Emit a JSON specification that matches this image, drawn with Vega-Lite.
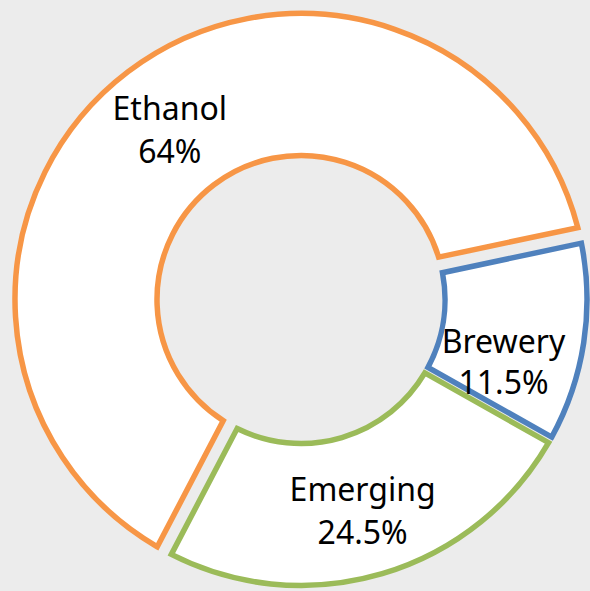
{
  "$schema": "https://vega.github.io/schema/vega-lite/v6.json",
  "autosize": {"type": "fit", "contains": "padding"},
  "width": 590,
  "height": 591,
  "padding": {"left": 12, "top": 8, "right": 0, "bottom": 0},
  "background": "#ececec",
  "view": {"stroke": null},
  "data": {
    "values": [
      {"cat": "Brewery", "value": 11.5, "label": "Brewery\n11.5%"},
      {"cat": "Emerging", "value": 24.5, "label": "Emerging\n24.5%"},
      {"cat": "Ethanol", "value": 64, "label": "Ethanol\n64%"}
    ]
  },
  "encoding": {
    "theta": {"field": "value", "type": "quantitative", "stack": true, "scale": {"range": [1.3614, 7.6446]}},
    "order": {"field": "cat", "type": "nominal", "sort": "ascending"},
    "detail": {"field": "cat", "type": "nominal"}
  },
  "layer": [
    {
      "mark": {"type": "arc", "outerRadius": 286, "innerRadius": 144, "fill": "white", "strokeWidth": 5.5, "padAngle": 0.08},
      "encoding": {
        "stroke": {"field": "cat", "type": "nominal", "legend": null, "scale": {"domain": ["Brewery", "Emerging", "Ethanol"], "range": ["#4f81bd", "#9bbb59", "#f79646"]}},
        "opacity": {"condition": {"test": "datum.cat === 'Ethanol'", "value": 1}, "value": 0}
      }
    },
    {
      "mark": {"type": "arc", "outerRadius": 286, "innerRadius": 144, "fill": "white", "strokeWidth": 5.5, "padAngle": 0.02},
      "encoding": {
        "stroke": {"field": "cat", "type": "nominal", "legend": null},
        "opacity": {"condition": {"test": "datum.cat === 'Ethanol'", "value": 0}, "value": 1}
      }
    },
    {
      "mark": {"type": "text", "radius": 217, "dy": -17, "font": "Noto Sans", "fontSize": 32, "lineHeight": 43, "lineBreak": "\n", "fill": "black", "align": "center", "baseline": "middle"},
      "encoding": {
        "text": {"condition": {"test": "datum.cat === 'Brewery'", "value": ""}, "field": "label", "type": "nominal"}
      }
    },
    {
      "mark": {"type": "text", "radius": 217, "dx": -12, "dy": 11, "font": "Noto Sans", "fontSize": 32, "lineHeight": 41, "lineBreak": "\n", "fill": "black", "align": "center", "baseline": "middle"},
      "encoding": {
        "text": {"condition": {"test": "datum.cat !== 'Brewery'", "value": ""}, "field": "label", "type": "nominal"}
      }
    }
  ]
}
